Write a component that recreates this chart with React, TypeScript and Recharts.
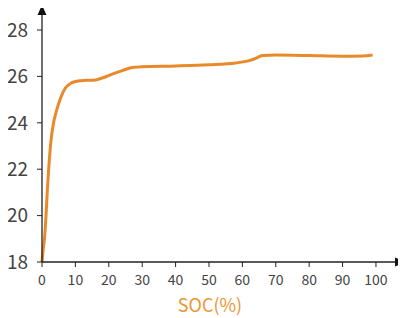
import React from 'react';
import { LineChart, Line, XAxis, YAxis } from 'recharts';

const soc = [0, 0.4, 0.8, 1.2, 1.6, 2, 2.6, 3.4, 4.3, 5.6, 7, 8.8, 10.8, 13, 16, 18, 21, 24, 27, 30, 40, 50, 58, 62, 64, 66, 70, 80, 90, 96, 99];
const voltage = [18, 18.6, 19.1, 20.0, 21.1, 22.0, 23.1, 23.95, 24.5, 25.08, 25.5, 25.72, 25.8, 25.83, 25.85, 25.93, 26.1, 26.25, 26.38, 26.42, 26.45, 26.5, 26.58, 26.68, 26.78, 26.9, 26.92, 26.9, 26.87, 26.88, 26.92];
const xTicks = [0, 10, 20, 30, 40, 50, 60, 70, 80, 90, 100];
const yTicks = [18, 20, 22, 24, 26, 28];

const data = soc.map((s, i) => ({ soc: s, v: voltage[i] }));

const font = '"Noto Sans CJK SC", "Noto Sans", sans-serif';

export default function App() {
  return (
    <div style={{ position: 'relative', width: 398, height: 310 }}>
      <LineChart width={398} height={310} data={data} margin={{ top: 6, right: 10, bottom: 0, left: 4 }}>
        <defs>
          <marker id="arrowX" viewBox="0 0 10 10" refX="1" refY="5" markerWidth="10" markerHeight="10" markerUnits="userSpaceOnUse" orient="auto">
            <path d="M0,0.5 L10,5 L0,9.5 z" fill="#111" />
          </marker>
          <marker id="arrowY" viewBox="0 0 10 10" refX="1" refY="5" markerWidth="10" markerHeight="10" markerUnits="userSpaceOnUse" orient="auto-start-reverse">
            <path d="M0,0.5 L10,5 L0,9.5 z" fill="#111" />
          </marker>
        </defs>
        <XAxis
          dataKey="soc"
          type="number"
          domain={[0, 106]}
          ticks={xTicks}
          height={56}
          axisLine={{ stroke: '#222', strokeWidth: 1.3, markerEnd: 'url(#arrowX)' }}
          tickLine={{ stroke: '#222' }}
          tickSize={5}
          tickMargin={8}
          tick={{ fill: '#444', fontSize: 14, fontFamily: font }}
          label={{ value: 'SOC(%)', position: 'insideBottom', offset: 6, dx: -9, fill: '#EE9533', fontSize: 18, fontFamily: font }}
        />
        <YAxis
          type="number"
          domain={[18, 28.69]}
          ticks={yTicks}
          width={30}
          axisLine={{ stroke: '#222', strokeWidth: 1.3, markerStart: 'url(#arrowY)' }}
          tickLine={{ stroke: '#222' }}
          tickSize={5}
          tickMargin={9}
          tick={{ fill: '#444', fontSize: 19, fontFamily: font }}
        />
        <Line
          type="monotone"
          dataKey="v"
          stroke="#E8892A"
          strokeWidth={3}
          dot={false}
          isAnimationActive={false}
        />
      </LineChart>
    </div>
  );
}
